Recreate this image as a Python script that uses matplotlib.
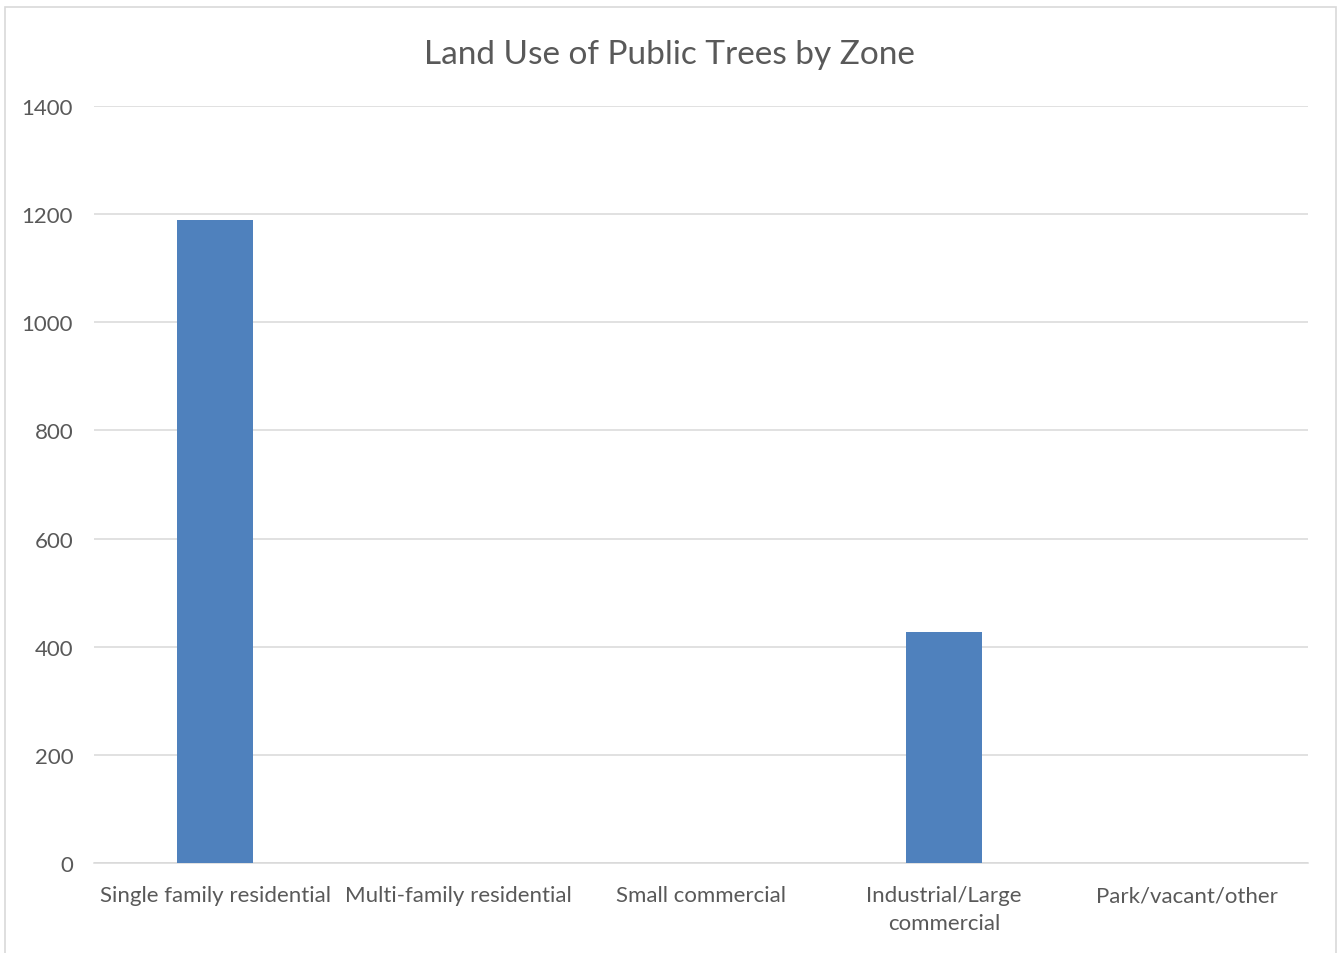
import matplotlib
matplotlib.use("Agg")
from matplotlib import pyplot as plt
from matplotlib.patches import Rectangle

plt.rcParams['font.family'] = ['Lato', 'DejaVu Sans']

zones = ['Single family residential', 'Multi-family residential', 'Small commercial',
         'Industrial/Large\ncommercial', 'Park/vacant/other']
trees = [1190, 0, 0, 427, 0]
yticks = [0, 200, 400, 600, 800, 1000, 1200, 1400]

W, H = 1339, 954
fig = plt.figure(figsize=(W / 100, H / 100), dpi=100)

# chart border like an Excel chart area
fig.patches.append(Rectangle((5 / W, -0.01), 1331 / W, 1 - 8 / H + 0.01,
                             transform=fig.transFigure, fill=False,
                             edgecolor='#d9d9d9', lw=1.2))

ax = fig.add_axes([94 / W, 1 - 864 / H, (1308 - 94) / W, (864 - 107) / H])
x = list(range(len(zones)))
ax.bar(x, trees, width=0.313, color='#4f81bd', zorder=3)

ax.set_xlim(-0.5, len(zones) - 0.5)
ax.set_ylim(0, 1400)
ax.set_yticks(yticks)
ax.set_xticks(x)
ax.set_xticklabels(zones, linespacing=1.5)
ax.grid(axis='y', color='#d9d9d9', lw=1.1, zorder=0)
for s in ['top', 'right', 'left']:
    ax.spines[s].set_visible(False)
ax.spines['bottom'].set_color('#d9d9d9')
ax.spines['bottom'].set_linewidth(1.1)
ax.tick_params(axis='both', length=0, labelsize=16, labelcolor='#595959')
ax.tick_params(axis='y', pad=15)
ax.tick_params(axis='x', pad=16)

fig.text(0.5, 1 - 55 / H, 'Land Use of Public Trees by Zone', ha='center', va='center',
         fontsize=24, color='#595959')

fig.savefig('out.png', dpi=100)
